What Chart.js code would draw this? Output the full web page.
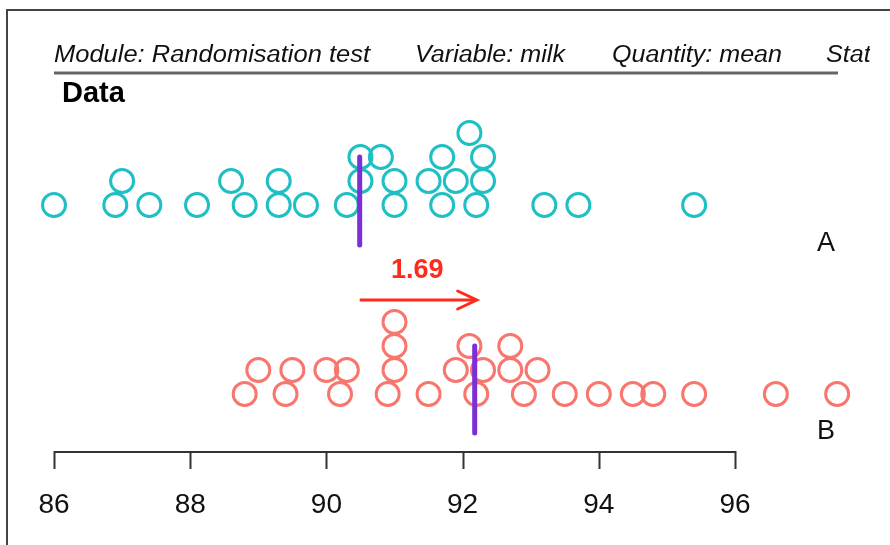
<!DOCTYPE html>
<html>
<head>
<meta charset="utf-8">
<script src="https://cdn.jsdelivr.net/npm/chart.js@4.4.1/dist/chart.umd.min.js"></script>
<style>
  html, body { margin: 0; padding: 0; background: #fff; }
  #wrap { width: 890px; height: 545px; }
</style>
</head>
<body>
<div id="wrap"><canvas id="dotChart" width="890" height="545"></canvas></div>
<script>
// Dot plot of milk by group.
// Values in each group, with the stack level each dot sits at (0 = bottom row)
const groupA = [86.0, 86.9, 87.4, 88.1, 88.8, 89.3, 89.7, 90.3, 91.0, 91.7, 92.2, 93.2, 93.7, 95.4,
                87.0, 88.6, 89.3, 90.5, 91.0, 91.5, 91.9, 92.3,
                90.5, 90.8, 91.7, 92.3,
                92.1];
const levelA = [0, 0, 0, 0, 0, 0, 0, 0, 0, 0, 0, 0, 0, 0,
                1, 1, 1, 1, 1, 1, 1, 1,
                2, 2, 2, 2,
                3];
const groupB = [88.8, 89.4, 90.2, 90.9, 91.5, 92.2, 92.9, 93.5, 94.0, 94.5, 94.8, 95.4, 96.6, 97.5,
                89.0, 89.5, 90.0, 90.3, 91.0, 91.9, 92.3, 92.7, 93.1,
                91.0, 92.1, 92.7,
                91.0];
const levelB = [0, 0, 0, 0, 0, 0, 0, 0, 0, 0, 0, 0, 0, 0,
                1, 1, 1, 1, 1, 1, 1, 1, 1,
                2, 2, 2,
                3];
const groupNames = ['A', 'B'];
const axisTicks = [86, 88, 90, 92, 94, 96];
const headerParts = ['Module: Randomisation test', 'Variable: milk', 'Quantity: mean', 'Stat'];

// layout (pixels)
const PX_PER_UNIT = 68.1;
const AXIS_LEFT = 54;
const ROW = 24;
const BASE_A = 205;
const BASE_B = 394;
const ARROW_Y = 300;
const AXIS_Y = 452;

const mean = arr => arr.reduce((s, v) => s + v, 0) / arr.length;
const meanA = mean(groupA);
const meanB = mean(groupB);

const xMin = axisTicks[0] - AXIS_LEFT / PX_PER_UNIT;
const xMax = xMin + 890 / PX_PER_UNIT;

function dots(values, levels, base) {
    return values.map((v, i) => ({ x: v, y: base - levels[i] * ROW }));
}

const FONT = '"Liberation Sans", Arial, Helvetica, sans-serif';

const decorations = {
    id: 'decorations',
    beforeDatasetsDraw(chart) {
        const ctx = chart.ctx;
        const xs = chart.scales.x;
        ctx.save();

        // window frame
        ctx.strokeStyle = '#444';
        ctx.lineWidth = 2;
        ctx.beginPath();
        ctx.moveTo(7, 545);
        ctx.lineTo(7, 10);
        ctx.lineTo(890, 10);
        ctx.stroke();

        // header line of italic text, clipped at the right
        ctx.save();
        ctx.beginPath();
        ctx.rect(0, 0, 870, 545);
        ctx.clip();
        ctx.fillStyle = '#111';
        ctx.font = 'italic 23px ' + FONT;
        ctx.textBaseline = 'alphabetic';
        const starts = [54, 415, 612, 826];
        const widths = [316, 150, 170];
        let stretch = 1;
        headerParts.forEach((txt, i) => {
            const w = ctx.measureText(txt).width;
            if (widths[i]) stretch = widths[i] / w;
            ctx.save();
            ctx.translate(starts[i], 62);
            ctx.scale(stretch, 1);
            ctx.fillText(txt, 0, 0);
            ctx.restore();
        });
        ctx.restore();

        ctx.strokeStyle = '#666';
        ctx.lineWidth = 3;
        ctx.beginPath();
        ctx.moveTo(54, 73);
        ctx.lineTo(838, 73);
        ctx.stroke();

        ctx.fillStyle = '#000';
        ctx.font = 'bold 29px ' + FONT;
        ctx.fillText('Data', 62, 102);

        // group labels
        ctx.font = '27px ' + FONT;
        ctx.textAlign = 'center';
        ctx.textBaseline = 'middle';
        ctx.fillStyle = '#111';
        ctx.fillText(groupNames[0], 826, 244);
        ctx.fillText(groupNames[1], 826, 432);

        // bottom axis
        const x0 = xs.getPixelForValue(axisTicks[0]);
        const x1 = xs.getPixelForValue(axisTicks[axisTicks.length - 1]);
        ctx.strokeStyle = '#333';
        ctx.lineWidth = 2;
        ctx.beginPath();
        ctx.moveTo(x0, AXIS_Y);
        ctx.lineTo(x1, AXIS_Y);
        axisTicks.forEach(t => {
            const px = Math.round(xs.getPixelForValue(t)) + 0.5;
            ctx.moveTo(px, AXIS_Y - 1);
            ctx.lineTo(px, AXIS_Y + 17);
        });
        ctx.stroke();
        ctx.font = '28px ' + FONT;
        ctx.fillStyle = '#111';
        axisTicks.forEach(t => {
            ctx.fillText(String(t), xs.getPixelForValue(t), 505);
        });

        ctx.restore();
    },
    afterDatasetsDraw(chart) {
        const ctx = chart.ctx;
        const xs = chart.scales.x;
        const tip = xs.getPixelForValue(meanB) + 2;
        ctx.save();
        // arrow head and difference label
        ctx.strokeStyle = '#ff2a1c';
        ctx.lineWidth = 3;
        ctx.lineCap = 'round';
        ctx.beginPath();
        ctx.moveTo(tip - 19, ARROW_Y - 9);
        ctx.lineTo(tip, ARROW_Y);
        ctx.lineTo(tip - 19, ARROW_Y + 9);
        ctx.stroke();
        ctx.fillStyle = '#ff2a1c';
        ctx.font = 'bold 27px ' + FONT;
        ctx.textAlign = 'center';
        ctx.textBaseline = 'alphabetic';
        const mid = (xs.getPixelForValue(meanA) + xs.getPixelForValue(meanB)) / 2;
        ctx.fillText((meanB - meanA).toFixed(2), mid, 278);
        ctx.restore();
    }
};

const ctx = document.getElementById('dotChart').getContext('2d');
new Chart(ctx, {
    type: 'scatter',
    data: {
        datasets: [
            {
                label: 'A',
                data: dots(groupA, levelA, BASE_A),
                pointRadius: 11.5,
                borderWidth: 3,
                borderColor: '#1fbfc4',
                backgroundColor: 'rgba(0,0,0,0)',
                order: 2
            },
            {
                label: 'B',
                data: dots(groupB, levelB, BASE_B),
                pointRadius: 11.5,
                borderWidth: 3,
                borderColor: '#f8766d',
                backgroundColor: 'rgba(0,0,0,0)',
                order: 2
            },
            {
                label: 'mean A',
                type: 'line',
                data: [{ x: meanA, y: BASE_A - 2 * ROW }, { x: meanA, y: BASE_A + 40 }],
                borderColor: '#7b2fd4',
                borderWidth: 5,
                borderCapStyle: 'round',
                pointRadius: 0,
                order: 1
            },
            {
                label: 'mean B',
                type: 'line',
                data: [{ x: meanB, y: BASE_B - 2 * ROW }, { x: meanB, y: BASE_B + 39 }],
                borderColor: '#7b2fd4',
                borderWidth: 5,
                borderCapStyle: 'round',
                pointRadius: 0,
                order: 1
            },
            {
                label: 'difference',
                type: 'line',
                data: [{ x: meanA, y: ARROW_Y }, { x: meanB, y: ARROW_Y }],
                borderColor: '#ff2a1c',
                borderWidth: 3,
                pointRadius: 0,
                order: 1
            }
        ]
    },
    options: {
        responsive: false,
        devicePixelRatio: 1,
        animation: false,
        layout: { padding: 0, autoPadding: false },
        plugins: {
            legend: { display: false },
            tooltip: { enabled: false },
            title: { display: false }
        },
        scales: {
            x: { type: 'linear', min: xMin, max: xMax, display: false },
            y: { type: 'linear', min: 0, max: 545, reverse: true, display: false }
        },
        elements: { line: { tension: 0 } },
        clip: false
    },
    plugins: [decorations]
});
</script>
</body>
</html>
